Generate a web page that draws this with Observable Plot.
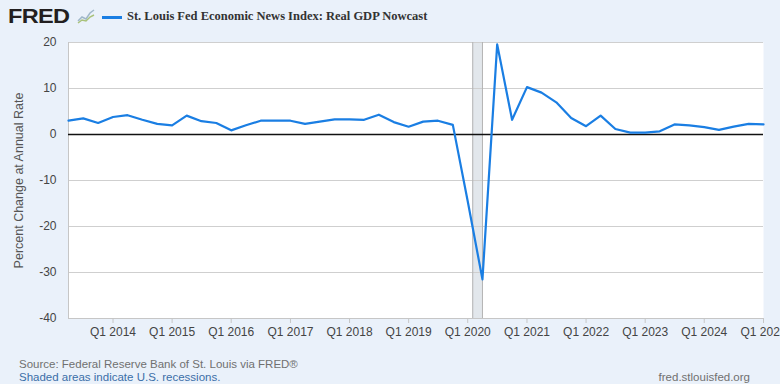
<!DOCTYPE html>
<html>
<head>
<meta charset="utf-8">
<script src="https://cdn.jsdelivr.net/npm/d3@7"></script>
<script src="https://cdn.jsdelivr.net/npm/@observablehq/plot@0.6"></script>
<style>
  html, body { margin: 0; padding: 0; background: #eaf1fa; }
  #wrap { position: relative; width: 780px; height: 384px; overflow: hidden; background: #eaf1fa; font-family: "Liberation Sans", Arial, sans-serif; }
  #header { position: absolute; left: 0; top: 0; width: 780px; height: 30px; }
  #logo { position: absolute; left: 8px; top: 4px; font: bold 21px "Liberation Sans", Arial, sans-serif; color: #231f20; letter-spacing: -0.6px; transform: scaleX(1.12); transform-origin: left top; line-height: 24px; }
  #icon { position: absolute; left: 77px; top: 9px; }
  #legline { position: absolute; left: 102px; top: 16px; width: 20px; height: 3px; background: #1a7ee3; }
  #title { position: absolute; left: 127px; top: 9px; font: bold 12.5px "Liberation Serif", "Times New Roman", serif; color: #333; white-space: nowrap; }
  #chart { position: absolute; left: 0; top: 30px; }
  #src { position: absolute; left: 19px; top: 358px; font-size: 11.5px; color: #707070; white-space: nowrap; }
  #rec { position: absolute; left: 19px; top: 371px; font-size: 11.5px; color: #3b6ea8; white-space: nowrap; }
  #url { position: absolute; right: 30px; top: 371px; font-size: 11.5px; color: #707070; white-space: nowrap; }
</style>
</head>
<body>
<div id="wrap">
  <div id="header">
    <div id="logo">FRED</div>
    <svg id="icon" width="18" height="15" viewBox="0 0 18 15">
      <polyline points="1,12 5,8 9,10 13,4 17,1" fill="none" stroke="#9fb7c9" stroke-width="1.5"/>
      <polyline points="1,14 5,11 9,12 13,8 17,6" fill="none" stroke="#a9c27a" stroke-width="1.5"/>
    </svg>
    <div id="legline"></div>
    <div id="title">St. Louis Fed Economic News Index: Real GDP Nowcast</div>
  </div>
  <div id="chart"></div>
  <div id="src">Source: Federal Reserve Bank of St. Louis via FRED®</div>
  <div id="rec">Shaded areas indicate U.S. recessions.</div>
  <div id="url">fred.stlouisfed.org</div>
</div>
<script>
const quarters = [
  "2013-04-01","2013-07-01","2013-10-01",
  "2014-01-01","2014-04-01","2014-07-01","2014-10-01",
  "2015-01-01","2015-04-01","2015-07-01","2015-10-01",
  "2016-01-01","2016-04-01","2016-07-01","2016-10-01",
  "2017-01-01","2017-04-01","2017-07-01","2017-10-01",
  "2018-01-01","2018-04-01","2018-07-01","2018-10-01",
  "2019-01-01","2019-04-01","2019-07-01","2019-10-01",
  "2020-01-01","2020-04-01","2020-07-01","2020-10-01",
  "2021-01-01","2021-04-01","2021-07-01","2021-10-01",
  "2022-01-01","2022-04-01","2022-07-01","2022-10-01",
  "2023-01-01","2023-04-01","2023-07-01","2023-10-01",
  "2024-01-01","2024-04-01","2024-07-01","2024-10-01",
  "2025-01-01"
];
const nowcast = [
  3.0, 3.5, 2.5,
  3.8, 4.2, 3.2, 2.3,
  2.0, 4.1, 2.9, 2.5,
  0.9, 2.0, 3.0, 3.0,
  3.0, 2.3, 2.8, 3.3,
  3.3, 3.2, 4.3, 2.7,
  1.7, 2.8, 3.0, 2.1,
  -14.5, -31.5, 19.6, 3.2,
  10.3, 9.1, 7.0, 3.6,
  1.8, 4.1, 1.2, 0.4,
  0.4, 0.7, 2.2, 2.0,
  1.6, 1.0, 1.7, 2.3,
  2.2
];
const recessionStart = ["2020-02-01"];
const recessionEnd = ["2020-04-01"];
const yTicks = [-40, -30, -20, -10, 0, 10, 20];
const xTickYears = [2014, 2015, 2016, 2017, 2018, 2019, 2020, 2021, 2022, 2023, 2024, 2025];
const yLabel = "Percent Change at Annual Rate";

const series = quarters.map((q, i) => ({date: new Date(q), value: nowcast[i]}));
const recessions = recessionStart.map((s, i) => ({start: new Date(s), end: new Date(recessionEnd[i])}));
const xTicks = xTickYears.map(y => new Date(Date.UTC(y, 0, 1)));
const x0 = new Date(quarters[0]);
const x1 = new Date(quarters[quarters.length - 1]);

const chart = Plot.plot({
  width: 780,
  height: 315,
  marginTop: 12,
  marginBottom: 27,
  marginLeft: 68,
  marginRight: 17,
  style: {fontSize: "12px", fontFamily: "'Liberation Sans', Arial, sans-serif", background: "transparent", overflow: "visible"},
  x: {type: "utc", domain: [x0, x1]},
  y: {domain: [-40, 20]},
  marks: [
    Plot.frame({fill: "white", stroke: "none"}),
    Plot.rect(recessions, {x1: "start", x2: "end", fill: "#e2e7ec"}),
    Plot.ruleY(yTicks.filter(d => d !== 0), {stroke: "#cfcfcf", strokeWidth: 1}),
    Plot.ruleX(recessions, {x: "start", stroke: "#b3b3b3"}),
    Plot.ruleX(recessions, {x: "end", stroke: "#b3b3b3"}),
    Plot.ruleX([x0], {stroke: "#c6c6c6"}),
    Plot.ruleY([-40], {stroke: "#c6c6c6"}),
    Plot.ruleY([0], {stroke: "#111", strokeWidth: 1.5}),
    Plot.line(series, {x: "date", y: "value", stroke: "#1a7ee3", strokeWidth: 2.2}),
    Plot.axisY({ticks: yTicks, tickFormat: d => String(d), tickSize: 0, tickPadding: 12, label: null, fill: "#444"}),
    Plot.axisX({ticks: xTicks, tickFormat: d => `Q1 ${d.getUTCFullYear()}`, tickSize: 5, tickPadding: 4, label: null, stroke: "#c6c6c6", fill: "#444"}),
    Plot.text([yLabel], {frameAnchor: "left", dx: -50, rotate: -90, textAnchor: "middle", fill: "#555", fontSize: 12.5})
  ]
});
document.getElementById("chart").appendChild(chart);
</script>
</body>
</html>
